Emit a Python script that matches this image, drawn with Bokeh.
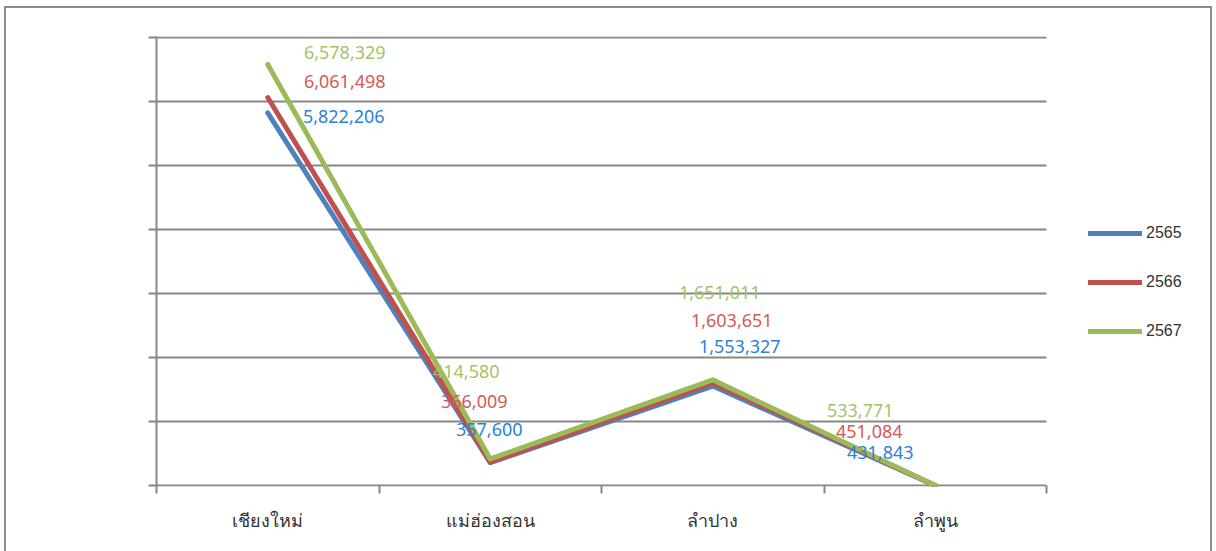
from bokeh.plotting import figure
from bokeh.models import (Range1d, FixedTicker, Legend, LegendItem, ColumnDataSource)
from bokeh.core.properties import value
from bokeh.embed import file_html
from bokeh.resources import INLINE

# ---- data ----
categories = ["เชียงใหม่", "แม่ฮ่องสอน", "ลำปาง", "ลำพูน"]
series_names = ["2565", "2566", "2567"]
# plotted values (the lines in the reference drop to 0 at ลำพูน)
values_2565 = [5822206, 357600, 1553327, 0]
values_2566 = [6061498, 366009, 1603651, 0]
values_2567 = [6578329, 414580, 1651011, 0]
# data-label values shown in the reference
labels_2565 = [5822206, 357600, 1553327, 431843]
labels_2566 = [6061498, 366009, 1603651, 451084]
labels_2567 = [6578329, 414580, 1651011, 533771]
y_ticks = [0, 1000000, 2000000, 3000000, 4000000, 5000000, 6000000, 7000000]

# ---- styles ----
line_colors = ["#4F81BD", "#C0504D", "#9BBB59"]
label_colors = ["#2A83D4", "#D35A56", "#A3C36A"]
# manual label offsets (screen px) per series, per category
label_dx = [[76, -1, 27, -55], [77, -16, 19, -66], [77, -24, 7, -75]]
label_dy = [[4, -33, -40, -33], [-16, -61, -62, -54], [-12, -87, -87, -75]]
GRID = "#868686"
LEGEND_ROOM = 0.719  # extra x-range (in category widths) that holds the legend
Y_PAD = 15625        # one pixel of value range, so edge lines are not clipped

n = len(categories)
p = figure(width=1204, height=543, output_backend="svg", toolbar_location=None,
           x_range=Range1d(0, n + LEGEND_ROOM),
           y_range=Range1d(-Y_PAD, y_ticks[-1] + Y_PAD),
           min_border_left=150, min_border_right=4, min_border_top=28,
           min_border_bottom=65)
p.margin = (8, 0, 0, 6)
p.outline_line_color = None
p.background_fill_color = "white"
p.border_fill_color = "white"
p.styles = {"outline": "2px solid #8c8c8c"}

xs = [i + 0.5 for i in range(n)]

# gridlines and x-axis line only over the category area
p.xgrid.grid_line_color = None
p.ygrid.grid_line_color = None
p.segment(x0=[0] * len(y_ticks), x1=[n] * len(y_ticks), y0=y_ticks, y1=y_ticks,
          line_color=GRID, line_width=2)

# y axis
p.yaxis.ticker = FixedTicker(ticks=y_ticks)
p.yaxis.axis_line_color = GRID
p.yaxis.axis_line_width = 2
p.yaxis.major_tick_line_color = GRID
p.yaxis.major_tick_line_width = 2
p.yaxis.major_tick_out = 8
p.yaxis.major_tick_in = 0
p.yaxis.minor_tick_line_color = None
p.yaxis.major_label_text_color = None
p.yaxis.major_label_text_font_size = "1px"

# x axis
p.xaxis.ticker = FixedTicker(ticks=xs, minor_ticks=list(range(n + 1)))
p.xaxis.major_label_overrides = {x: c for x, c in zip(xs, categories)}
p.xaxis.axis_line_color = None
p.xaxis.major_tick_line_color = None
p.xaxis.major_tick_out = 0
p.xaxis.major_tick_in = 0
p.xaxis.minor_tick_line_color = GRID
p.xaxis.minor_tick_line_width = 2
p.xaxis.minor_tick_out = 7
p.xaxis.minor_tick_in = 1
p.xaxis.major_label_text_font = "Noto Sans"
p.xaxis.major_label_text_font_size = "18px"
p.xaxis.major_label_text_color = "#333333"
p.xaxis.major_label_standoff = 14

series_values = [values_2565, values_2566, values_2567]
series_labels = [labels_2565, labels_2566, labels_2567]

items = []
for k in range(3):
    r = p.line(xs, series_values[k], line_color=line_colors[k], line_width=5,
               line_cap="round", line_join="round")
    items.append(LegendItem(label=series_names[k], renderers=[r]))

for k in range(3):
    src = ColumnDataSource(dict(
        x=xs, y=series_values[k],
        t=[f"{v:,}" for v in series_labels[k]],
        dx=label_dx[k], dy=label_dy[k]))
    p.text(x="x", y="y", text="t", source=src, x_offset="dx", y_offset="dy",
           text_font=value("Noto Sans"), text_font_size="18px",
           text_color=label_colors[k], text_align="center", text_baseline="middle")

legend = Legend(items=items, location=(932, 145), orientation="vertical",
                glyph_width=54, glyph_height=20, label_height=20,
                label_standoff=4, spacing=29, padding=0, margin=0,
                border_line_color=None, background_fill_alpha=0,
                label_text_font="Liberation Sans", label_text_font_size="16px",
                label_text_color="#333333")
p.add_layout(legend, "center")

open("out.html", "w").write(file_html(p, INLINE))
